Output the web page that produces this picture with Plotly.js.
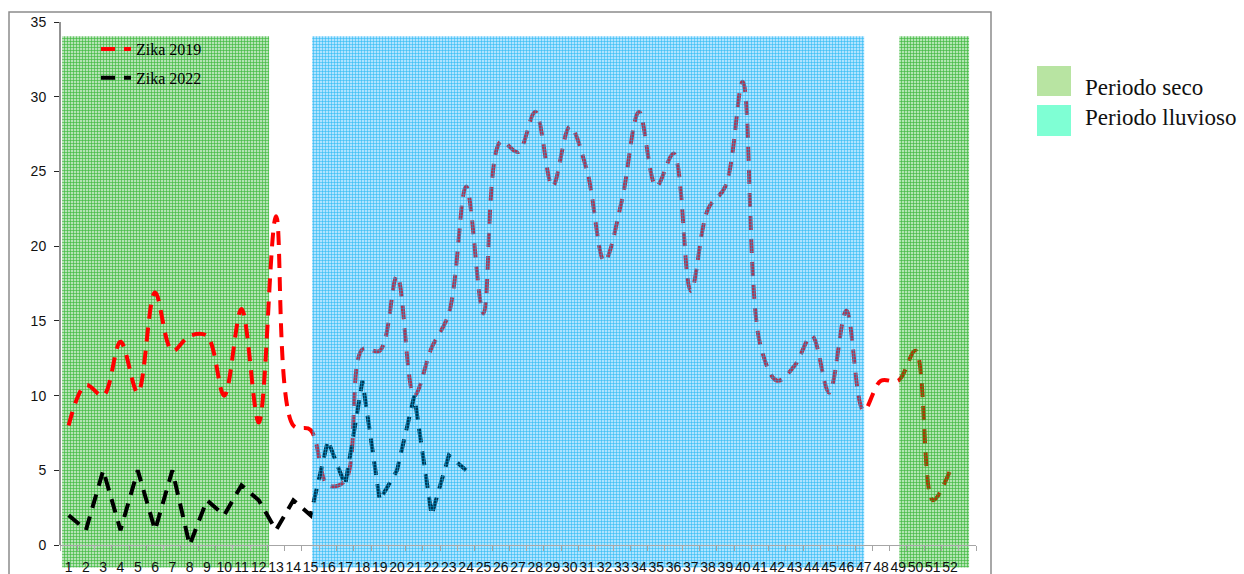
<!DOCTYPE html>
<html>
<head>
<meta charset="utf-8">
<script src="https://cdn.plot.ly/plotly-3.0.1.min.js"></script>
<style>
html,body{margin:0;padding:0;background:#ffffff;}
#chart{width:1244px;height:574px;}
</style>
</head>
<body>
<div id="chart"></div>
<script>
// ---- data ----
const weeks = [1,2,3,4,5,6,7,8,9,10,11,12,13,14,15,16,17,18,19,20,21,22,23,24,25,26,
               27,28,29,30,31,32,33,34,35,36,37,38,39,40,41,42,43,44,45,46,47,48,49,50,51,52];
const tickLabels = ['1','2','3','4','5','6','7','8','9','10','11','12','13','14','15','16','17','18','19','20','21','22','23','24','25','26',
                    '27','28','29','30','31','32','33','34','35','36','37','38','39','40','41','42','43','44','45','46','47','48','49','50','51','52'];
const zika2019 = [8, 10.7, 10, 13.6, 10.2, 16.9, 13, 14, 14, 10, 15.8, 8.2, 22, 8, 7.7, 4, 4.3, 13.1, 13, 18,
                  10, 13.2, 15.5, 24, 15.5, 27, 26.3, 29, 24, 28, 25, 19, 23, 29, 24, 26.2, 17, 22.5, 24, 31,
                  13.5, 11, 12, 14, 10.2, 15.7, 9, 11, 11, 13, 3, 5];
const weeks2022 = [1,2,3,4,5,6,7,8,9,10,11,12,13,14,15,16,17,18,19,20,21,22,23,24];
const zika2022 = [2, 1, 5, 1, 5, 1, 5, 0, 3, 2, 4, 3, 1, 3, 2, 7, 4, 11, 3, 5, 10, 2, 6, 5];
const yTicks = [0, 5, 10, 15, 20, 25, 30, 35];
// seasonal periods (in week units)
const periodNames = ['Periodo seco', 'Periodo lluvioso', 'Periodo seco'];
const periodStart = [0.62, 15.09, 49.06];
const periodEnd = [12.6, 47.03, 53.1];
const periodLow = -1.5;
const periodHigh = 34.05;

// ---- styling ----
const Y_MIN = -1.6, Y_MAX = 35;
const serif = 'Liberation Serif, Times New Roman, serif';
const sans = 'Liberation Sans, Arial, sans-serif';
const DASH = '14px,9px';

function periodBar(i, axX, axY, pattern) {
  return {
    type: 'bar',
    x: [(periodStart[i] + periodEnd[i]) / 2],
    width: [periodEnd[i] - periodStart[i]],
    base: [periodLow],
    y: [periodHigh - periodLow],
    name: periodNames[i],
    xaxis: axX, yaxis: axY,
    showlegend: false,
    hoverinfo: 'skip',
    marker: {
      color: pattern.fg,
      line: {width: 0},
      pattern: {shape: '+', size: 3, solidity: pattern.s, fgcolor: pattern.fg, bgcolor: pattern.bg, fillmode: 'replace'}
    }
  };
}

const greenSolid = {fg: '#3cb83c', bg: '#b5e3b5', s: 0.38};
const greenOver = {fg: 'rgba(30,170,30,0.8)', bg: 'rgba(16,175,16,0.32)', s: 0.38};
const blueOver = {fg: 'rgba(0,172,238,0.78)', bg: 'rgba(14,170,255,0.33)', s: 0.33};

const traces = [
  periodBar(0, 'x', 'y', greenSolid),
  {
    type: 'scatter', mode: 'lines', name: 'Zika 2019',
    x: weeks, y: zika2019, legendgroup: 'a',
    line: {color: '#ff0000', width: 4, dash: DASH, shape: 'spline', smoothing: 1}
  },
  {
    type: 'scatter', mode: 'lines', name: 'Zika 2022',
    x: weeks2022, y: zika2022, legendgroup: 'b',
    line: {color: '#000000', width: 4, dash: DASH}
  },
  periodBar(1, 'x2', 'y2', blueOver),
  periodBar(2, 'x2', 'y2', greenOver)
];

// paper helpers (plot area: x 60..976 px, y 22..569 px)
const PL = 60, PW = 916, PT = 22, PH = 547;
const px = v => (v - PL) / PW;
const py = v => (PT + PH - v) / PH;

const layout = {
  width: 1244, height: 574,
  margin: {l: PL, r: 1244 - PL - PW, t: PT, b: 574 - PT - PH, pad: 0},
  paper_bgcolor: '#ffffff', plot_bgcolor: 'rgba(0,0,0,0)',
  barmode: 'overlay',
  showlegend: true,
  legend: {
    x: px(96), y: py(32), xanchor: 'left', yanchor: 'top',
    bgcolor: 'rgba(0,0,0,0)', borderwidth: 0,
    font: {family: serif, size: 16, color: '#000'},
    tracegroupgap: 5
  },
  xaxis: {
    range: [0.5, 53.5], anchor: 'free', position: (0 - Y_MIN) / (Y_MAX - Y_MIN),
    tickmode: 'array', tickvals: weeks, ticktext: tickLabels,
    ticks: '', tickangle: 0, ticklabelstandoff: 9,
    showline: true, linecolor: '#a6a6a6', linewidth: 1,
    showgrid: false, zeroline: false,
    tickfont: {family: sans, size: 14, color: '#111'},
    minor: {ticks: 'outside', ticklen: 5, tickcolor: '#a6a6a6', tick0: 0.5, dtick: 1, showgrid: false},
    fixedrange: true
  },
  yaxis: {
    range: [Y_MIN, Y_MAX], tickmode: 'array', tickvals: yTicks,
    ticks: 'outside', ticklen: 5, tickcolor: '#262626', ticklabelstandoff: 5,
    showline: false, showgrid: false, zeroline: false,
    tickfont: {family: sans, size: 14, color: '#111'},
    fixedrange: true
  },
  xaxis2: {overlaying: 'x', range: [0.5, 53.5], visible: false, fixedrange: true},
  yaxis2: {overlaying: 'y', range: [Y_MIN, Y_MAX], visible: false, fixedrange: true},
  shapes: [
    // y axis line from 0 to 35
    {type: 'line', xref: 'paper', yref: 'y', x0: 0, x1: 0, y0: 0, y1: 35, line: {color: '#262626', width: 1}, layer: 'above'},
    // chart border
    {type: 'rect', xref: 'paper', yref: 'paper', x0: px(9), x1: px(991), y0: py(590), y1: py(12),
     line: {color: '#8c8c8c', width: 1.5}, fillcolor: 'rgba(0,0,0,0)', layer: 'below'},
    // right legend swatches
    {type: 'rect', xref: 'paper', yref: 'paper', x0: px(1037), x1: px(1071), y0: py(96), y1: py(66),
     line: {width: 0}, fillcolor: '#b8e4a2'},
    {type: 'rect', xref: 'paper', yref: 'paper', x0: px(1037), x1: px(1071), y0: py(136), y1: py(105),
     line: {width: 0}, fillcolor: '#7fffd4'}
  ],
  annotations: [
    {xref: 'paper', yref: 'paper', x: px(1083), y: py(87), xanchor: 'left', yanchor: 'middle', showarrow: false,
     text: periodNames[0], font: {family: serif, size: 23, color: '#111'}},
    {xref: 'paper', yref: 'paper', x: px(1083), y: py(117), xanchor: 'left', yanchor: 'middle', showarrow: false,
     text: periodNames[1], font: {family: serif, size: 23, color: '#111'}}
  ]
};

Plotly.newPlot('chart', traces, layout, {displayModeBar: false, staticPlot: true});
</script>
</body>
</html>
